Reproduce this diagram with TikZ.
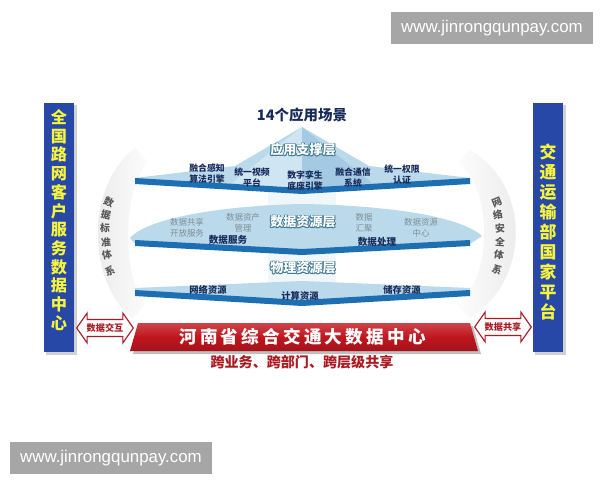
\documentclass[tikz,border=0pt]{standalone}
\usepackage{fontspec}
\setmainfont{Noto Sans CJK SC}
\newfontfamily\webfont{Liberation Sans}
\usepackage{tikz}
\usetikzlibrary{shapes.arrows}

\definecolor{bandblue}{RGB}{30,110,178}
\definecolor{lightlayer}{RGB}{186,218,235}
\definecolor{barblue}{RGB}{40,72,168}
\definecolor{baryellow}{RGB}{246,244,62}
\definecolor{navytext}{RGB}{24,44,92}
\definecolor{graytext}{RGB}{128,142,152}
\definecolor{tealedge}{RGB}{62,122,148}
\definecolor{bannerred}{RGB}{192,22,30}
\definecolor{darkred}{RGB}{170,28,36}
\definecolor{markgray}{RGB}{166,166,166}

% white layer title with a teal rim
\newcommand{\layertitle}[3]{%
	\foreach \ox/\oy in {0.6/0,-0.6/0,0/0.6,0/-0.6,0.45/0.45,-0.45/0.45,0.45/-0.45,-0.45/-0.45}
		\node[layerlabel, text=tealedge, xshift=\ox pt, yshift=\oy pt] at #2 {#3};
	\node[layerlabel, text=white] (#1) at #2 {#3};
}

\begin{document}
\begin{tikzpicture}[x=0.025cm, y=-0.025cm,
		smalltext/.style={font=\fontsize{6.3}{7.8}\selectfont\bfseries, text=navytext, align=center, inner sep=0pt},
		faintext/.style={font=\fontsize{6}{7.6}\selectfont, text=graytext, align=center, inner sep=0pt},
		layerlabel/.style={font=\fontsize{9.3}{11}\selectfont\bfseries, inner sep=0pt},
		arctext/.style={font=\fontsize{7}{8}\selectfont\bfseries, text=black!65, inner sep=0pt},
		bartext/.style={text=baryellow, align=center, inner sep=0pt},
		markbox/.style={fill=markgray, text=white, font=\webfont\fontsize{12}{14}\selectfont, minimum width=5.05cm, minimum height=0.8cm},
		dataarrow/.style={double arrow, draw=darkred, fill=white, thick, double arrow head extend=0.16cm,
			double arrow tip angle=110, minimum height=1.4cm, inner sep=2.5pt, text=darkred,
			font=\fontsize{6.5}{7}\selectfont\bfseries},
		bannertext/.style={text=white, font=\fontsize{12.5}{14}\selectfont\bfseries, inner sep=0pt}]

	\useasboundingbox[fill=white] (0,0) rectangle (600,480);

	% Watermarks
	\node[markbox] (marktop) at (492,28) {www.jinrongqunpay.com};
	\node[markbox] (markbottom) at (111,458) {www.jinrongqunpay.com};

	% Side bars
	\fill[black!18] (46,105) rectangle (77,355);
	\fill[barblue] (44,103) rectangle (74,352);
	\node[bartext, font=\fontsize{11.5}{13.3}\selectfont\bfseries] (leftbar) at (59,220)
		{全\\国\\路\\网\\客\\户\\服\\务\\数\\据\\中\\心};
	\fill[black!18] (535,105) rectangle (566,355);
	\fill[barblue] (533,103) rectangle (563,352);
	\node[bartext, font=\fontsize{12}{14.2}\selectfont\bfseries] (rightbar) at (548,232)
		{交\\通\\运\\输\\部\\国\\家\\平\\台};

	% Crescents on both sides
	\shade[left color=black!9, right color=black!1] (135,148) .. controls (86,185) and (86,280) .. (132,318)
		-- (145,305) .. controls (122,275) and (122,190) .. (148,162) -- cycle;
	\shade[right color=black!9, left color=black!1] (470,150) .. controls (531,185) and (531,280) .. (470,318)
		-- (458,305) .. controls (493,275) and (493,190) .. (458,162) -- cycle;
	\node[arctext, rotate=-25] (s1) at (109,202) {数};
	\node[arctext, rotate=-12] (s2) at (106,215) {据};
	\node[arctext, rotate=-4] (s3) at (105,228) {标};
	\node[arctext, rotate=4] (s4) at (106,242) {准};
	\node[arctext, rotate=12] (s5) at (107,255) {体};
	\node[arctext, rotate=22] (s6) at (110,271) {系};
	\node[arctext, rotate=22] (n1) at (497,202) {网};
	\node[arctext, rotate=12] (n2) at (498,215) {络};
	\node[arctext, rotate=4] (n3) at (500,228) {安};
	\node[arctext, rotate=-4] (n4) at (500,242) {全};
	\node[arctext, rotate=-12] (n5) at (499,255) {体};
	\node[arctext, rotate=-22] (n6) at (497,270) {系};

	% Light column in the middle
	\fill[lightlayer!22] (268,190) rectangle (336,285);

	% Application layer
	\fill[lightlayer] (135,178) -- (235,166) -- (302,127) -- (369,166) -- (470,178)
		-- (470,181) -- (302,191) -- (135,181) -- cycle;
	\fill[lightlayer!70] (302,127) -- (232,183) -- (302,190) -- cycle;
	\fill[lightlayer!85!bandblue] (302,127) -- (372,183) -- (302,190) -- cycle;
	\fill[bandblue] (135,178) -- (302,188) -- (470,178) -- (470,184) -- (302,194) -- (135,184) -- cycle;

	% Data layer
	\fill[lightlayer] (130,238) .. controls (150,215) and (240,205) .. (302,204)
		.. controls (364,205) and (455,212) .. (482,236) -- (470,244) -- (302,252) -- (135,244) -- cycle;
	\fill[bandblue] (135,240) -- (302,249) -- (470,240) -- (470,246) -- (302,255) -- (135,246) -- cycle;

	% Physical layer
	\fill[lightlayer] (135,288) -- (302,281) -- (470,288) -- (470,291) -- (302,301) -- (135,291) -- cycle;
	\fill[bandblue] (135,290) -- (302,300) -- (470,290) -- (470,296) -- (302,306) -- (135,296) -- cycle;

	% Title and layer names
	\node[font=\fontsize{10.3}{12}\selectfont\bfseries, text=navytext] (title) at (302,115) {14个应用场景};
	\layertitle{app}{(303,150)}{应用支撑层}
	\layertitle{data}{(303,222)}{数据资源层}
	\layertitle{phys}{(303,268)}{物理资源层}

	% Labels of the application layer
	\node[smalltext] (a1) at (207,174) {融合感知\\算法引擎};
	\node[smalltext] (a2) at (252,178) {统一视频\\平台};
	\node[smalltext] (a3) at (305,181) {数字孪生\\底座引擎};
	\node[smalltext] (a4) at (353,178) {融合通信\\系统};
	\node[smalltext] (a5) at (402,175) {统一权限\\认证};

	% Labels of the data layer
	\node[faintext] (d1) at (187,228) {数据共享\\开放服务};
	\node[faintext] (d2) at (243,223) {数据资产\\管理};
	\node[faintext] (d3) at (364,223) {数据\\汇聚};
	\node[faintext] (d4) at (421,228) {数据资源\\中心};
	\node[smalltext, font=\fontsize{6.8}{8}\selectfont\bfseries] (d5) at (228,240) {数据服务};
	\node[smalltext, font=\fontsize{6.8}{8}\selectfont\bfseries] (d6) at (377,242) {数据处理};

	% Labels of the physical layer
	\node[smalltext, font=\fontsize{6.6}{8}\selectfont\bfseries] (p1) at (208,290) {网络资源};
	\node[smalltext, font=\fontsize{6.6}{8}\selectfont\bfseries] (p2) at (300,296) {计算资源};
	\node[smalltext, font=\fontsize{6.6}{8}\selectfont\bfseries] (p3) at (402,290) {储存资源};

	% Red banner
	\fill[black!25] (141,326) -- (473,326) -- (481,354) -- (133,354) -- cycle;
	\shade[top color=bannerred!80!white, bottom color=bannerred!85!black, middle color=bannerred]
		(138,323) -- (470,323) -- (478,351) -- (130,351) -- cycle;
	\foreach \ch [count=\i from 0] in {河,南,省,综,合,交,通,大,数,据,中,心}
		\node[bannertext] (ban\i) at (188+20.8*\i,337) {\ch};
	\node[font=\fontsize{10}{12}\selectfont\bfseries, text=darkred] (share) at (302,362) {跨业务、跨部门、跨层级共享};

	% Exchange arrows
	\node[dataarrow] (xleft) at (105,328) {数据交互};
	\node[dataarrow] (xright) at (503,327) {数据共享};
\end{tikzpicture}
\end{document}
